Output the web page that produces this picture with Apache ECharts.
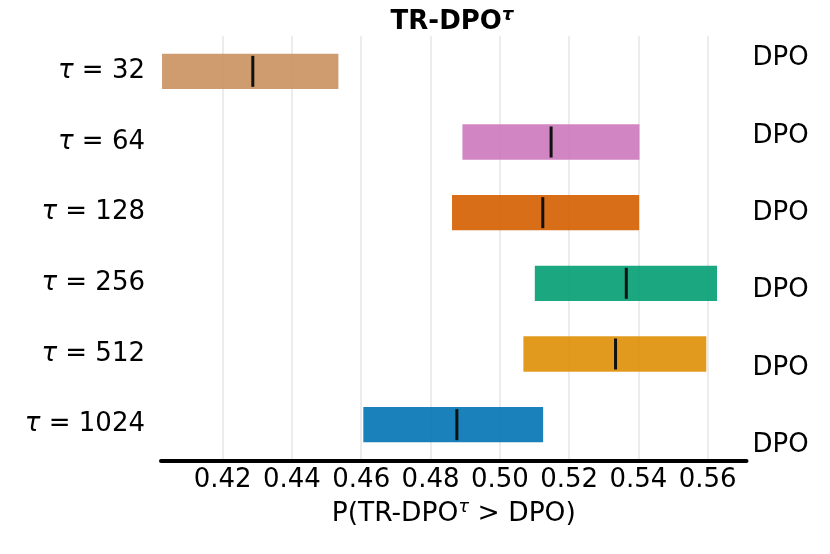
<!DOCTYPE html>
<html>
<head>
<meta charset="utf-8">
<script src="https://cdn.jsdelivr.net/npm/echarts@6/dist/echarts.min.js"></script>
<style>
  html, body { margin: 0; padding: 0; background: #fff; }
  #chart { width: 830px; height: 554px; }
</style>
</head>
<body>
<div id="chart"></div>
<script>
// top to bottom
var tauValues = [32, 64, 128, 256, 512, 1024];
var lowValues = [0.4025, 0.4892, 0.4862, 0.5101, 0.5068, 0.4606];
var highValues = [0.4534, 0.5403, 0.5402, 0.5627, 0.5596, 0.5125];
var medianValues = [0.4287, 0.5148, 0.5124, 0.5365, 0.5334, 0.4876];
var rightLabels = ['DPO', 'DPO', 'DPO', 'DPO', 'DPO', 'DPO'];
var tickValues = [0.42, 0.44, 0.46, 0.48, 0.50, 0.52, 0.54, 0.56];

var colors = ['#ca9161', '#cc78bc', '#d55e00', '#029e73', '#de8f05', '#0173b2'];
var FONT = 'DejaVu Sans';

var categories = tauValues.map(function (t) { return 'τ = ' + t; });
var rangeData = tauValues.map(function (t, i) { return [i, lowValues[i], highValues[i]]; });
var medianData = tauValues.map(function (t, i) { return [medianValues[i], i]; });

var chart = echarts.init(document.getElementById('chart'));

chart.setOption({
    animation: false,
    backgroundColor: '#fff',
    title: {
        text: '{b|TR-DPO}{s|τ}',
        left: 447,
        top: 1,
        textAlign: 'center',
        textStyle: {
            rich: {
                b: { fontFamily: FONT, fontWeight: 'bold', fontSize: 26, color: '#000', lineHeight: 32 },
                s: { fontFamily: FONT, fontStyle: 'italic', fontSize: 18, color: '#000', lineHeight: 10, verticalAlign: 'top' }
            }
        }
    },
    grid: [
        { left: 161, right: 83.5, top: 36, bottom: 94 },
        { left: 161, right: 83.5, top: 20, bottom: 70 }
    ],
    xAxis: [{
        type: 'value',
        gridIndex: 0,
        min: 0.4022,
        max: 0.5712,
        offset: 1,
        axisLine: { show: true, lineStyle: { color: '#000', width: 4 } },
        axisTick: { show: false, customValues: tickValues },
        splitLine: { show: true, lineStyle: { color: '#e6e6e6', width: 1.5 } },
        axisLabel: {
            customValues: tickValues,
            margin: 6,
            fontFamily: FONT,
            fontSize: 26,
            color: '#000',
            formatter: function (v) { return v.toFixed(2); }
        },
        name: '{n|P(TR-DPO}{s|τ}{n| > DPO)}',
        nameLocation: 'middle',
        nameGap: 37,
        nameTextStyle: {
            rich: {
                n: { fontFamily: FONT, fontSize: 26.5, color: '#000', lineHeight: 32 },
                s: { fontFamily: FONT, fontStyle: 'italic', fontSize: 18, color: '#000', lineHeight: 10, verticalAlign: 'top' }
            }
        }
    }, {
        type: 'value',
        gridIndex: 1,
        show: false
    }],
    yAxis: [{
        type: 'category',
        gridIndex: 0,
        data: categories,
        inverse: true,
        axisLine: { show: false },
        axisTick: { show: false },
        splitLine: { show: false },
        axisLabel: {
            margin: 16,
            formatter: function (v) { return '{i|τ}{n|' + v.slice(1) + '}'; },
            rich: {
                i: { fontFamily: FONT, fontStyle: 'italic', fontSize: 26, color: '#000' },
                n: { fontFamily: FONT, fontSize: 26, color: '#000' }
            }
        }
    }, {
        type: 'category',
        gridIndex: 1,
        position: 'right',
        data: rightLabels,
        inverse: true,
        axisLine: { show: false },
        axisTick: { show: false },
        splitLine: { show: false },
        axisLabel: { margin: 6, fontFamily: FONT, fontSize: 26, color: '#000' }
    }],
    series: [{
        type: 'custom',
        xAxisIndex: 0,
        yAxisIndex: 0,
        data: rangeData,
        encode: { x: [1, 2], y: 0 },
        renderItem: function (params, api) {
            var cat = api.value(0);
            var lo = api.coord([api.value(1), cat]);
            var hi = api.coord([api.value(2), cat]);
            var h = api.size([0, 1])[1] * 0.5;
            return {
                type: 'rect',
                shape: { x: lo[0], y: lo[1] - h / 2, width: hi[0] - lo[0], height: h },
                style: { fill: colors[params.dataIndex], opacity: 0.9 }
            };
        }
    }, {
        type: 'scatter',
        xAxisIndex: 0,
        yAxisIndex: 0,
        data: medianData,
        symbol: 'rect',
        symbolSize: [3, 31],
        itemStyle: { color: '#111', opacity: 1 },
        z: 5
    }]
});
</script>
</body>
</html>
